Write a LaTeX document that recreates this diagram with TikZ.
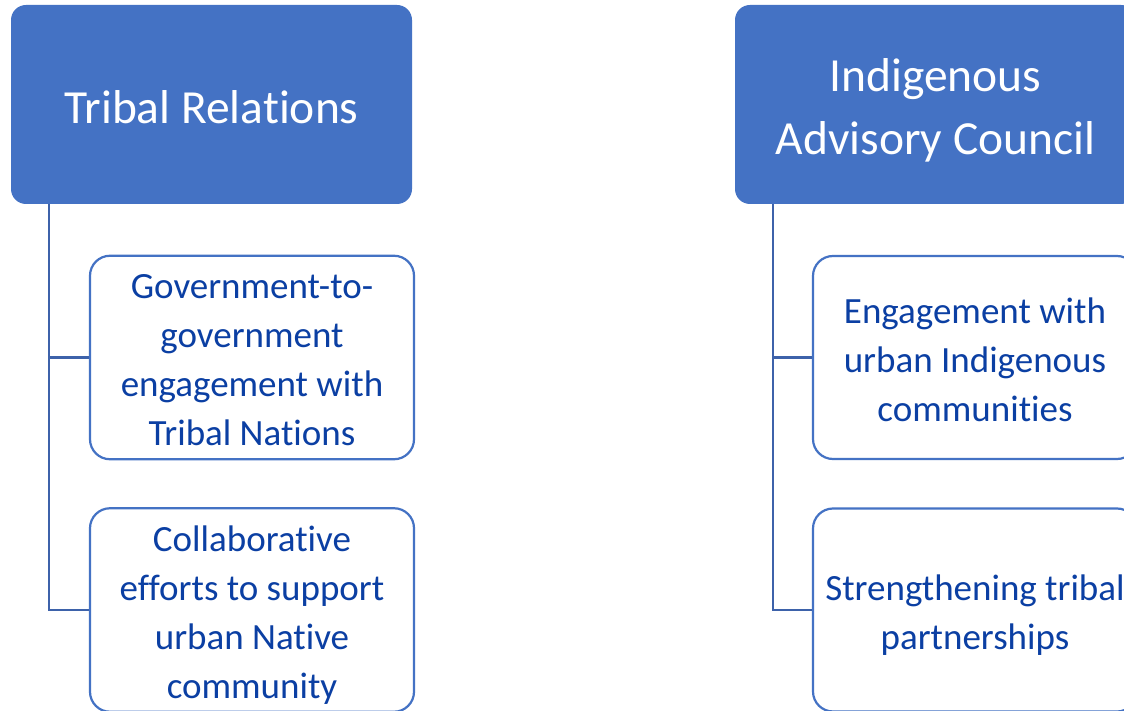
\documentclass[tikz,border=0pt]{standalone}
\usepackage{fontspec}
\setmainfont{Carlito}[Ligatures=NoCommon]
\definecolor{hdr}{HTML}{4472C4}
\definecolor{edgec}{HTML}{3D62AA}
\definecolor{txt}{HTML}{0B3FA3}
\newcommand{\itop}{\rule{0pt}{43pt}}
\newcommand{\ibot}{\rule[-13.5pt]{0pt}{13.5pt}}
\newcommand{\htop}{\rule{0pt}{52pt}}
\newcommand{\hbot}{\rule[-14pt]{0pt}{14pt}}
\begin{document}
\begin{tikzpicture}[x=1pt,y=-1pt,
  header/.style={fill=hdr, rounded corners=15pt, minimum width=401pt, minimum height=199pt,
    text=white, align=center, font=\fontsize{47.5}{63}\selectfont, inner sep=0pt},
  item/.style={draw=hdr, line width=2.2pt, fill=white, rounded corners=20pt,
    minimum width=324pt, minimum height=203pt, text=txt, align=center,
    font=\fontsize{37}{49}\selectfont, inner sep=0pt},
  link/.style={draw=edgec, line width=2.5pt}]
\useasboundingbox (0,0) rectangle (1124,711);
\fill[white] (0,0) rectangle (1124,711);
% left column
\node[header] (hL) at (211.5,104.5) {\htop Tribal Relations\hbot};
\node[item] (cL1) at (252,357.5) {\itop Government-to-\\government\\engagement with\\Tribal Nations\ibot};
\node[item] (cL2) at (252,610) {\itop Collaborative\\efforts to support\\urban Native\\community\ibot};
\draw[link] (hL.south west) ++(38,0) |- (cL1.west);
\draw[link] (hL.south west) ++(38,0) |- (cL2.west);
% right column
\node[header] (hR) at (935.5,104.5) {\htop Indigenous\\Advisory Council\hbot};
\node[item] (cR1) at (975,357.5) {\itop Engagement with\\urban Indigenous\\communities\ibot};
\node[item] (cR2) at (975,610) {\itop Strengthening tribal\\partnerships\ibot};
\draw[link] (hR.south west) ++(38,0) |- (cR1.west);
\draw[link] (hR.south west) ++(38,0) |- (cR2.west);
\end{tikzpicture}
\end{document}
